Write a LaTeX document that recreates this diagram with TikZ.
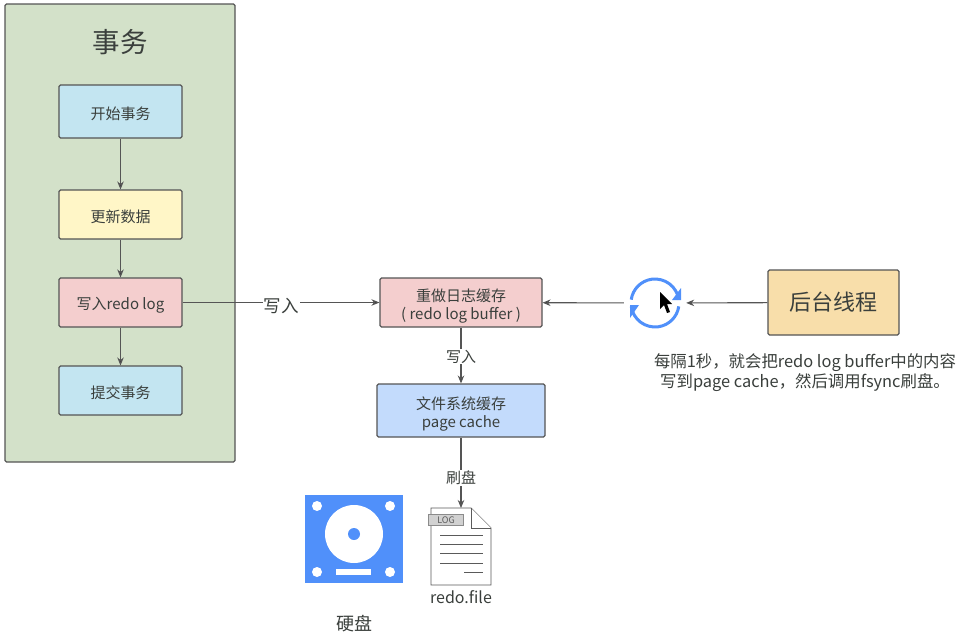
\documentclass[tikz,border=0pt]{standalone}
\usepackage{fontspec}
\setmainfont{Noto Sans CJK SC}
\usepackage{tikz}
\usetikzlibrary{arrows.meta}

\definecolor{txtgray}{HTML}{3A3F3C}
\definecolor{linegray}{HTML}{555555}
\definecolor{diskblue}{HTML}{5090FA}
\definecolor{docgray}{HTML}{5A5A5A}

\newcommand{\toplift}{\rule{0pt}{20pt}}

\tikzset{
    box/.style={draw=linegray,line width=1.1pt,rounded corners=1.5pt,text=txtgray,
        inner sep=0pt,align=center,font=\fontsize{15}{18}\selectfont,
        execute at begin node={\rule{0pt}{17pt}}},
    flow/.style={-{Stealth[length=8pt,width=6.5pt]},draw=linegray,line width=1.1pt},
    flowlabel/.style={fill=white,inner sep=1pt,text=txtgray,font=\fontsize{15}{18}\selectfont},
    plaintxt/.style={inner sep=0pt,text=txtgray,align=center},
    doclines/.style={draw=docgray,line width=.9pt},
    diskhole/.style={fill=white,draw=none}
}

\begin{document}
\begin{tikzpicture}[x=1pt,y=-1pt]
    \useasboundingbox[fill=white] (0,0) rectangle (962,637);

    % transaction panel
    \node[box,fill={rgb,255:red,211;green,225;blue,201},minimum width=230pt,minimum height=458pt] (panel) at (120,233) {};
    \node[plaintxt,font=\fontsize{27.5}{30}\selectfont] (title) at (120,42) {事务};

    \node[box,fill={rgb,255:red,195;green,229;blue,241},minimum width=123pt,minimum height=53pt] (start) at (120.5,111.5) {开始事务};
    \node[box,fill={rgb,255:red,255;green,246;blue,199},minimum width=123pt,minimum height=49pt] (update) at (120.5,214.5) {更新数据};
    \node[box,fill={rgb,255:red,244;green,206;blue,206},minimum width=123pt,minimum height=49pt] (write) at (120.5,302.5) {写入redo log};
    \node[box,fill={rgb,255:red,195;green,229;blue,241},minimum width=123pt,minimum height=49pt] (commit) at (120.5,390.5) {提交事务};

    \node[box,fill={rgb,255:red,244;green,206;blue,206},minimum width=162pt,minimum height=49pt] (buffer) at (461,302.5) {\toplift 重做日志缓存\\( redo log buffer )};
    \node[box,fill={rgb,255:red,195;green,219;blue,252},minimum width=168pt,minimum height=53pt] (cache) at (461,410.5) {\toplift 文件系统缓存\\page cache};
    \node[box,fill={rgb,255:red,248;green,222;blue,170},minimum width=131pt,minimum height=65pt,font=\fontsize{22}{25}\selectfont] (thread) at (833.5,302.5) {后台线程};

    % refresh loop
    \node[circle,minimum size=62pt,inner sep=0pt] (loop) at (655,303) {};
    \draw[diskblue,line width=3pt] (655,303) ++(172:24) arc[start angle=172,end angle=8,radius=24pt,y radius=-24pt];
    \draw[diskblue,line width=3pt] (655,303) ++(-8:24) arc[start angle=-8,end angle=-172,radius=24pt,y radius=-24pt];
    \fill[diskblue] (672,300) -- (681,300) -- (681,288) -- cycle;
    \fill[diskblue] (639,305) -- (630,305) -- (630,318) -- cycle;
    \fill[black] (660,292) -- (660,309) -- (664,305) -- (667,313) -- (670,312) -- (667,304) -- (672,304) -- cycle;

    \node[plaintxt,font=\fontsize{16.4}{20}\selectfont] (note) at (805,372.5) {每隔1秒，就会把redo log buffer中的内容\\写到page cache，然后调用fsync刷盘。};

    % log file
    \coordinate (filetop) at (461,508);
    \draw[doclines,fill=white] (431,508) -- (471,508) -- (491,528) -- (491,585) -- (431,585) -- cycle;
    \draw[doclines,fill=white] (471,508) -- (471,528) -- (491,528);
    \node[draw=docgray!70,fill=black!18,line width=.6pt,minimum width=35pt,minimum height=11pt,inner sep=0pt,text=docgray,font=\fontsize{9}{9}\selectfont] (logtag) at (446,520) {LOG};
    \draw[doclines] (440,535) -- (483,535);
    \draw[doclines] (440,544) -- (483,544);
    \draw[doclines] (440,553) -- (483,553);
    \draw[doclines] (440,563) -- (483,563);
    \draw[doclines] (464,572) -- (483,572);
    \node[plaintxt,font=\fontsize{16}{18}\selectfont] (filename) at (461,597) {redo.file};

    % disk icon
    \fill[diskblue] (305,495) rectangle (403,583);
    \foreach \x/\y in {317/506,390/506,317/572,390/572}
        \fill[diskhole] (\x,\y) circle (5pt);
    \fill[diskhole] (354,534) circle (29pt);
    \fill[diskblue] (354,534) circle (6pt);
    \fill[diskhole] (336,569) rectangle (371,575);
    \node[plaintxt,font=\fontsize{18}{20}\selectfont] (disklabel) at (354,624) {硬盘};

    \path[flow]
        (start) edge (update)
        (update) edge (write)
        (write) edge (commit)
        (write) edge node[flowlabel,font=\fontsize{17.5}{20}\selectfont,yshift=-3pt] (lblwrite) {写入} (buffer)
        (loop) edge (buffer)
        (thread) edge (loop)
        (buffer) edge node[flowlabel,yshift=-1pt] (lblcache) {写入} (cache)
        (cache) edge node[flowlabel,pos=.56,yshift=-1pt] (lblflush) {刷盘} (filetop);
\end{tikzpicture}
\end{document}
